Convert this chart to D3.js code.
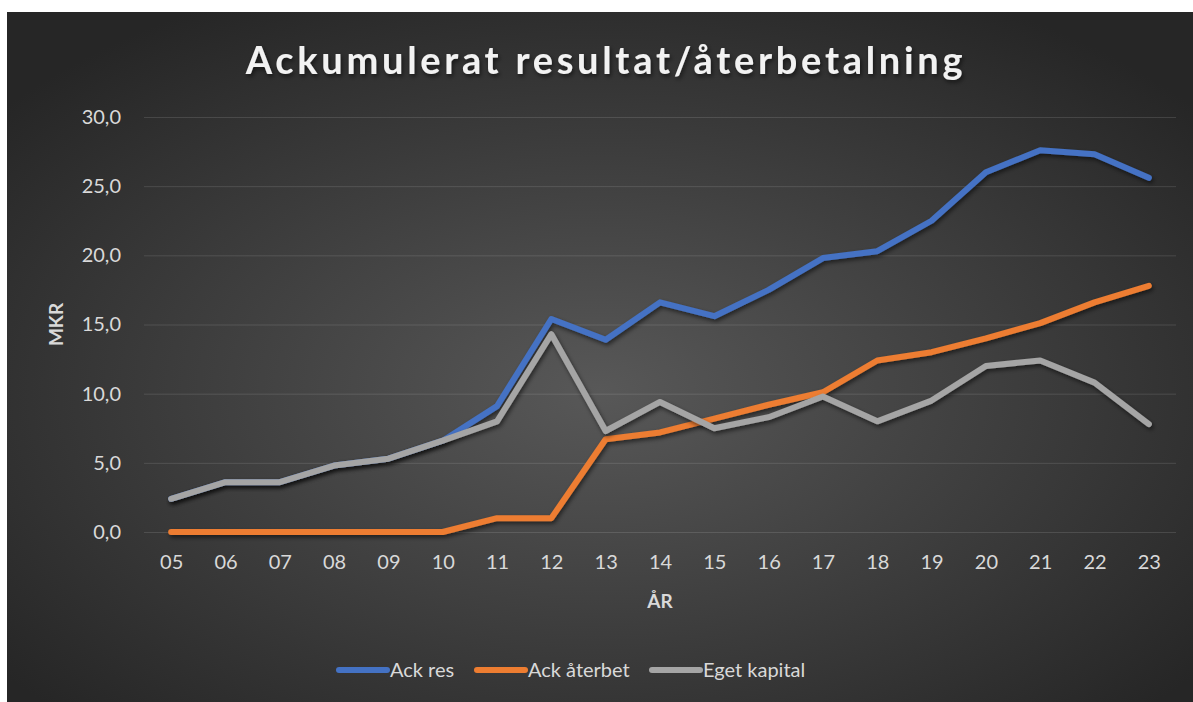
<!DOCTYPE html>
<html>
<head>
<meta charset="utf-8">
<script src="https://cdn.jsdelivr.net/npm/d3@7"></script>
<style>
  body { margin: 0; background: #fff; }
  text { font-family: Lato, "Liberation Sans", sans-serif; }
</style>
</head>
<body>
<div id="chart"></div>
<script>
// data
var years = ["05","06","07","08","09","10","11","12","13","14","15","16","17","18","19","20","21","22","23"];
var ackRes = [2.4, 3.6, 3.6, 4.8, 5.3, 6.6, 9.1, 15.4, 13.9, 16.6, 15.6, 17.5, 19.8, 20.3, 22.5, 26.0, 27.6, 27.3, 25.6];
var ackAterbet = [0, 0, 0, 0, 0, 0, 1.0, 1.0, 6.7, 7.2, 8.2, 9.2, 10.1, 12.4, 13.0, 14.0, 15.1, 16.6, 17.8];
var egetKapital = [2.4, 3.6, 3.6, 4.8, 5.3, 6.6, 8.0, 14.3, 7.3, 9.4, 7.5, 8.3, 9.8, 8.0, 9.5, 12.0, 12.4, 10.8, 7.8];
var seriesNames = ["Ack res", "Ack återbet", "Eget kapital"];
var seriesColors = ["#4472C4", "#ED7D31", "#A5A5A5"];
var yTicks = [0, 5, 10, 15, 20, 25, 30];

function init(){
    var w = 1193, h = 702;
    var left = 144, right = 1176, top = 117, bottom = 532;

    var svg = d3.select("#chart").append("svg")
        .attr("width", w)
        .attr("height", h);

    var defs = svg.append("defs");
    var grad = defs.append("radialGradient")
        .attr("id", "bg")
        .attr("cx", "50%").attr("cy", "55%").attr("r", "65%");
    grad.append("stop").attr("offset", "0%").attr("stop-color", "#585858");
    grad.append("stop").attr("offset", "100%").attr("stop-color", "#262626");

    var shadow = defs.append("filter").attr("id", "shadow")
        .attr("x", "-10%").attr("y", "-10%").attr("width", "120%").attr("height", "130%");
    shadow.append("feDropShadow")
        .attr("dx", 1.5).attr("dy", 2.5).attr("stdDeviation", 2)
        .attr("flood-color", "#000").attr("flood-opacity", 0.55);

    svg.append("rect")
        .attr("x", 7).attr("y", 12)
        .attr("width", w - 7).attr("height", h - 12)
        .attr("fill", "url(#bg)");

    var x = d3.scalePoint().domain(years).range([left, right]).padding(0.5);
    var y = d3.scaleLinear().domain([0, 30]).range([bottom, top]);

    var fmt = function(d){ return d3.format(".1f")(d).replace(".", ","); };

    // y axis with gridlines
    var yAxis = svg.append("g")
        .attr("transform", "translate(" + left + ",0)")
        .call(d3.axisLeft(y).tickValues(yTicks).tickFormat(fmt)
              .tickSize(-(right - left)).tickPadding(23));
    yAxis.select(".domain").remove();
    yAxis.selectAll("line").attr("stroke", "#ffffff").attr("stroke-opacity", 0.12);
    yAxis.selectAll("text").attr("fill", "#d9d9d9").style("font-size", "20px");

    // x axis
    var xAxis = svg.append("g")
        .attr("transform", "translate(0," + bottom + ")")
        .call(d3.axisBottom(x).tickSize(0).tickPadding(23));
    xAxis.select(".domain").remove();
    xAxis.selectAll("text").attr("fill", "#d9d9d9").style("font-size", "20px");

    // axis titles
    svg.append("text")
        .attr("x", (left + right) / 2).attr("y", 608)
        .attr("text-anchor", "middle")
        .attr("fill", "#d9d9d9")
        .style("font-size", "19px").style("font-weight", "bold")
        .text("ÅR");

    svg.append("text")
        .attr("transform", "translate(63," + ((top + bottom) / 2) + ") rotate(-90)")
        .attr("text-anchor", "middle")
        .attr("fill", "#d9d9d9")
        .style("font-size", "19px").style("font-weight", "bold")
        .text("MKR");

    // title
    svg.append("text")
        .attr("x", 606).attr("y", 74)
        .attr("text-anchor", "middle")
        .attr("fill", "#f2f2f2")
        .attr("filter", "url(#shadow)")
        .style("font-size", "38px").style("font-weight", "bold")
        .style("letter-spacing", "3.7px")
        .text("Ackumulerat resultat/återbetalning");

    // lines
    var allSeries = [ackRes, ackAterbet, egetKapital];
    var line = d3.line()
        .x(function(d, i){ return x(years[i]); })
        .y(function(d){ return y(d); });

    svg.selectAll("path.series")
        .data(allSeries)
        .enter()
        .append("path")
        .attr("class", "series")
        .attr("d", line)
        .attr("fill", "none")
        .attr("stroke", function(d, i){ return seriesColors[i]; })
        .attr("stroke-width", 6)
        .attr("stroke-linejoin", "round")
        .attr("stroke-linecap", "round")
        .attr("filter", "url(#shadow)");

    // legend
    var legendX = [339, 477, 652];
    var legend = svg.selectAll("g.legend")
        .data(seriesNames)
        .enter()
        .append("g")
        .attr("class", "legend")
        .attr("transform", function(d, i){ return "translate(" + legendX[i] + ",670)"; });

    legend.append("line")
        .attr("x1", 0).attr("x2", 48)
        .attr("stroke", function(d, i){ return seriesColors[i]; })
        .attr("stroke-width", 6)
        .attr("stroke-linecap", "round");

    legend.append("text")
        .attr("x", 51).attr("y", 7)
        .attr("fill", "#d9d9d9")
        .style("font-size", "20px")
        .text(function(d){ return d; });
}
window.onload = init;
</script>
</body>
</html>
